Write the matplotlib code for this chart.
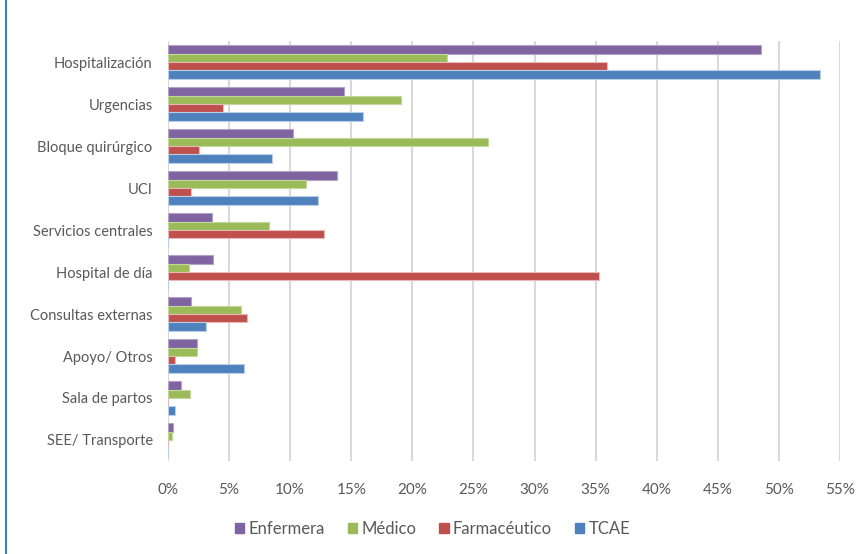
import matplotlib.pyplot as plt
from matplotlib.lines import Line2D
from matplotlib.patches import Patch
import numpy as np

plt.rcParams['font.family'] = ['Lato', 'DejaVu Sans']

categories = ["Hospitalización", "Urgencias", "Bloque quirúrgico", "UCI",
              "Servicios centrales", "Hospital de día", "Consultas externas",
              "Apoyo/ Otros", "Sala de partos", "SEE/ Transporte"]

enfermera = [48.5, 14.4, 10.2, 13.8, 3.6, 3.7, 1.9, 2.4, 1.1, 0.4]
medico = [22.8, 19.1, 26.2, 11.3, 8.3, 1.7, 6.0, 2.4, 1.8, 0.3]
farmaceutico = [35.9, 4.5, 2.5, 1.9, 12.8, 35.3, 6.5, 0.6, 0.0, 0.0]
tcae = [53.4, 16.0, 8.5, 12.3, 0.0, 0.0, 3.1, 6.2, 0.6, 0.0]

series = [("Enfermera", enfermera, "#8064a2", "#b3a2c7"),
          ("Médico", medico, "#9bbb59", "#c3d69b"),
          ("Farmacéutico", farmaceutico, "#c0504d", "#e6b9b8"),
          ("TCAE", tcae, "#4f81bd", "#b9cde5")]

fig = plt.figure(figsize=(8.65, 5.54), dpi=100)
ax = fig.add_axes([0.1942, 0.1679, 0.7769, 0.758])

y = np.arange(len(categories))
h = 0.2
for i, (name, vals, col, edge) in enumerate(series):
    ax.barh(y + (i - 1.5) * h, vals, height=h, color=col,
            edgecolor=edge, linewidth=0.8, label=name, zorder=3)

ax.set_xlim(0, 55)
ax.set_ylim(len(categories) - 0.5, -0.5)
ax.set_xticks(np.arange(0, 56, 5))
ax.set_xticklabels([f"{v}%" for v in range(0, 56, 5)])
ax.set_yticks(y)
ax.set_yticklabels(categories)
ax.tick_params(axis='both', length=0, labelsize=10.5, colors='#595959')
ax.tick_params(axis='x', labelsize=11, pad=16)
ax.tick_params(axis='y', pad=11)
ax.grid(axis='x', color='#d9d9d9', linewidth=1.5, zorder=0)
for s in ax.spines.values():
    s.set_visible(False)

handles = [Patch(facecolor=c, edgecolor=c) for _, _, c, _ in series]
fig.legend(handles, [s[0] for s in series], loc='center', ncol=4,
           bbox_to_anchor=(0.5, 0.046), frameon=False, fontsize=12,
           handlelength=0.55, handleheight=0.55, handletextpad=0.25,
           columnspacing=1.4, labelcolor='#595959')

fig.add_artist(Line2D([6 / 865, 6 / 865], [0, 1], color='#3a7fc0',
                      linewidth=1.5, transform=fig.transFigure))

fig.savefig("out.png", dpi=100)
